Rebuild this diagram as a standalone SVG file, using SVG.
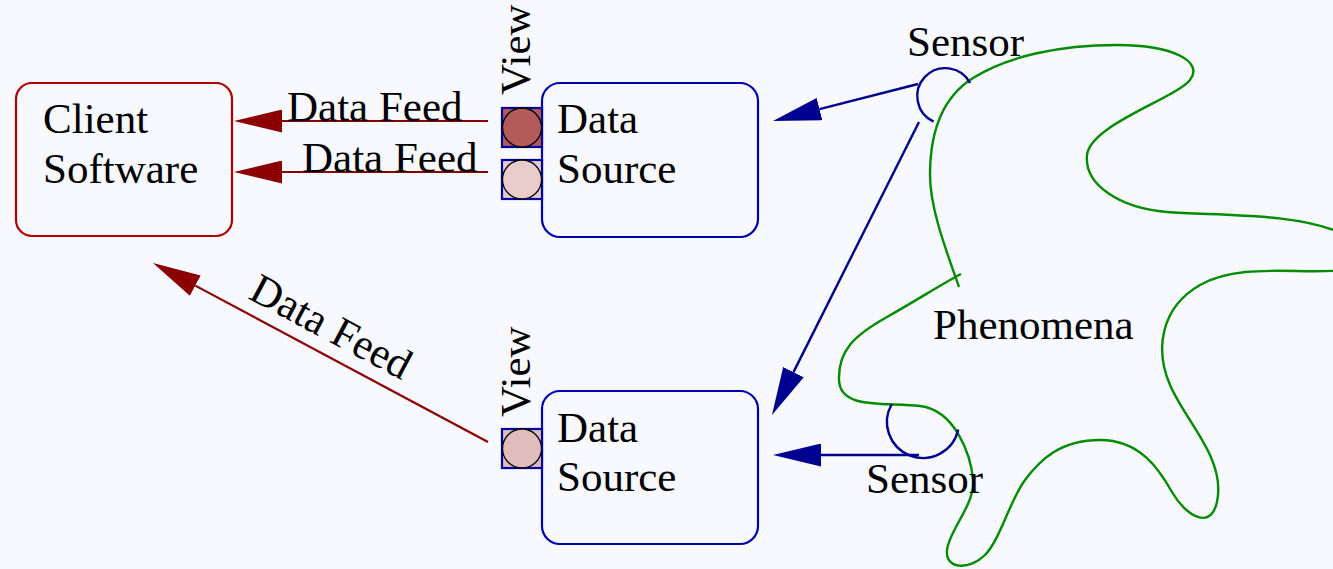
<svg xmlns="http://www.w3.org/2000/svg" width="1333" height="569" viewBox="0 0 1333 569">
  <style>
    text { font-family: "Liberation Serif", "Times New Roman", serif; font-size: 43px; fill: #000; }
    .client { fill: none; stroke: #b00000; stroke-width: 2.2; }
    .source { fill: none; stroke: #0000b0; stroke-width: 2.2; }
    .port { stroke: #0000a0; stroke-width: 2.2; }
    .knob { stroke: #000; stroke-width: 1.3; }
    .feed { fill: none; stroke: #8b0000; stroke-width: 2.2; marker-end: url(#headRed); }
    .sense { fill: none; stroke: #000090; stroke-width: 2.4; }
    .senseArrow { fill: none; stroke: #000090; stroke-width: 2.4; marker-end: url(#headBlue); }
    .blob { fill: none; stroke: #008c00; stroke-width: 2.4; }
  </style>
  <defs>
    <marker id="headRed" markerUnits="userSpaceOnUse" viewBox="0 0 48 23" refX="0" refY="11.5" markerWidth="48" markerHeight="23" orient="auto">
      <path d="M0,0 L48,11.5 L0,23 Z" fill="#8b0000"/>
    </marker>
    <marker id="headBlue" markerUnits="userSpaceOnUse" viewBox="0 0 48 23" refX="0" refY="11.5" markerWidth="48" markerHeight="23" orient="auto">
      <path d="M0,0 L48,11.5 L0,23 Z" fill="#000090"/>
    </marker>
  </defs>

  <rect width="1333" height="569" fill="#f8f8ff"/>

  <!-- phenomena outline -->
  <g id="phenomena">
    <path class="blob" d="M959,287 C948,255 930,210 930,175 S938,100 973,78 S1060,45 1117,45 S1204,62 1190,80 S1090,125 1087,155 S1120,208 1167,212 S1300,212 1345,235 C1360,250 1360,265 1345,270 C1300,275 1240,262 1200,285 S1155,350 1170,385 S1222,455 1218,495 S1185,515 1172,492 S1140,440 1100,440 S1040,460 1025,480 S1000,540 985,555 S945,570 947,550 S975,505 973,480 S955,410 920,406 S840,410 839,380 S855,335 887,317 S940,285 961,274"/>
    <text x="933" y="339">Phenomena</text>
  </g>

  <!-- client -->
  <g id="client">
    <rect class="client" x="16" y="83" width="216" height="153" rx="16"/>
    <text x="43" y="133">Client</text>
    <text x="43" y="183">Software</text>
  </g>

  <!-- upper data source with two views -->
  <g id="source-top">
    <rect class="source" x="542" y="83" width="216" height="154" rx="18"/>
    <text x="557" y="133">Data</text>
    <text x="557" y="183">Source</text>
  </g>
  <g id="view-top-1">
    <rect class="port" x="502" y="108" width="40" height="39" fill="#b35a5a"/>
    <circle class="knob" cx="522" cy="127.5" r="19.5" fill="#b35a5a"/>
    <text transform="translate(530,95) rotate(-90)">View</text>
  </g>
  <g id="view-top-2">
    <rect class="port" x="502" y="160" width="40" height="39" fill="#e8cccc"/>
    <circle class="knob" cx="522" cy="179.5" r="19.5" fill="#e8cccc"/>
  </g>

  <!-- lower data source -->
  <g id="source-bottom">
    <rect class="source" x="542" y="391" width="216" height="153" rx="18"/>
    <text x="557" y="442">Data</text>
    <text x="557" y="491">Source</text>
  </g>
  <g id="view-bottom">
    <rect class="port" x="502" y="429" width="40" height="39" fill="#e0bcbc"/>
    <circle class="knob" cx="522" cy="448.5" r="19.5" fill="#e0bcbc"/>
    <text transform="translate(530,417) rotate(-90)">View</text>
  </g>

  <!-- sensors -->
  <g id="sensor-top">
    <path class="sense" d="M933.6,121.6 A28,28 0 1 1 970,83"/>
    <text x="907" y="56">Sensor</text>
  </g>
  <g id="sensor-bottom">
    <path class="sense" d="M891.8,404 A36,36 0 1 0 958.2,429.5"/>
    <text x="866" y="493">Sensor</text>
  </g>

  <!-- connectors -->
  <g id="connectors">
    <path class="feed" d="M488,121 L282,121"/>
    <text x="287" y="121">Data Feed</text>
    <path class="feed" d="M488,172 L282,172"/>
    <text x="302" y="172">Data Feed</text>
    <path class="feed" d="M488,442 L195.3,285.6"/>
    <text transform="translate(247,298) rotate(28)">Data Feed</text>

    <path class="senseArrow" d="M918,84 L819.5,109.1"/>
    <path class="senseArrow" d="M919,122 L793.5,372.1"/>
    <path class="senseArrow" d="M919,455 L821,455"/>
  </g>
</svg>
